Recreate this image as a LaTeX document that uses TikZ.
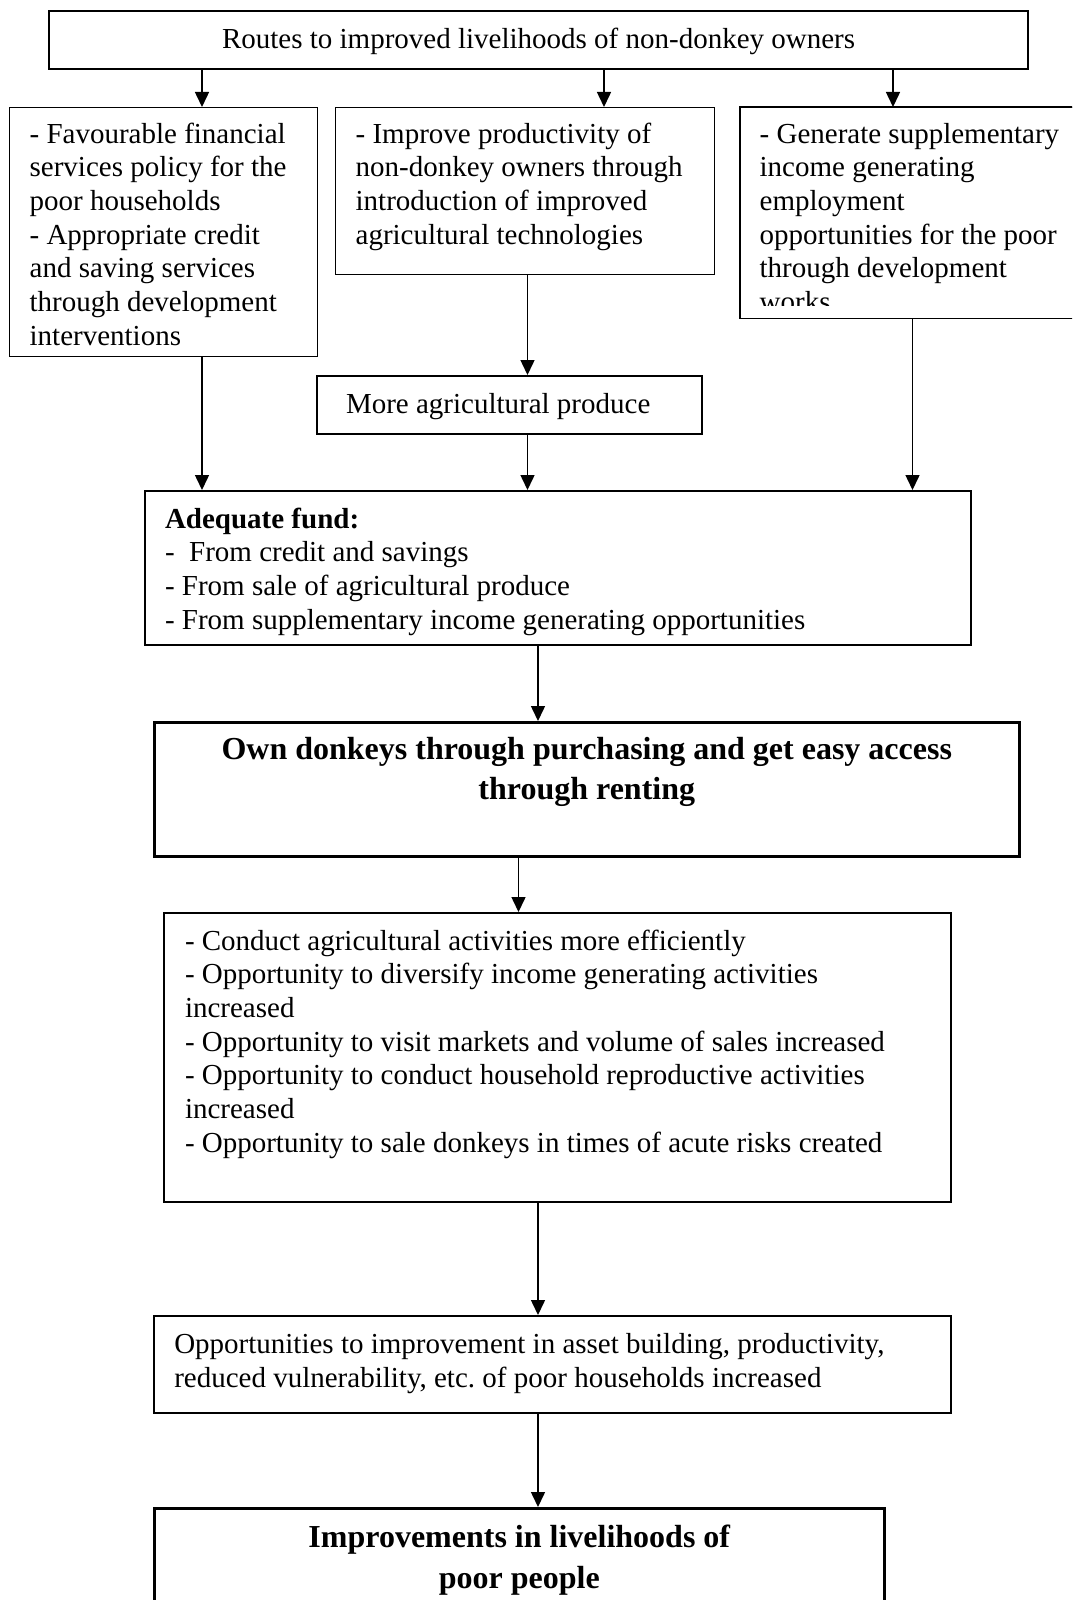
\documentclass[tikz,border=0pt]{standalone}
\usepackage{fontspec}
\setmainfont{Liberation Serif}
\usetikzlibrary{arrows.meta}
\frenchspacing
% #1 width, #2 height, #3 first baseline offset, #4 alignment setup, #5 text
\newcommand\boxcontent[5]{\begin{minipage}[t][#2pt][t]{#1pt}\vspace*{\dimexpr#3pt-\ht\strutbox\relax}#4\strut #5\end{minipage}}
\newcommand\padleft[1]{\raggedright\leftskip=#1pt\relax}
\begin{document}
\begin{tikzpicture}[x=1pt,y=-1pt,
  box/.style={draw, line width=1.3pt, inner sep=0pt, anchor=north west,
    font=\fontsize{29}{33.7}\selectfont},
  bigbox/.style={box, line width=2.6pt, font=\fontsize{32}{40.5}\selectfont\bfseries},
  arr/.style={line width=1.5pt, -{Triangle[length=15pt,width=14pt]}}]
\useasboundingbox (0,0) rectangle (1072,1600);
\clip (0,0) rectangle (1072,1600);

% x positions of connectors
\coordinate (xa) at (202,0);
\coordinate (xb) at (604,0);
\coordinate (xc) at (893,0);
\coordinate (xd) at (527.5,0);
\coordinate (xf) at (912.5,0);
\coordinate (xg) at (538,0);
\coordinate (xh) at (518.5,0);

\node[box, line width=2.2pt] (top) at (48,10)
  {\boxcontent{979}{58}{37}{\centering}{Routes to improved livelihoods of non-donkey owners}};

\node[box] (left) at (9,107)
  {\boxcontent{308}{249}{35.5}{\padleft{20}}{- Favourable financial\\services policy for the\\poor households\\- Appropriate credit\\and saving services\\through development\\interventions}};

\node[box] (mid) at (335,107)
  {\boxcontent{379}{167}{35.5}{\padleft{20}}{- Improve productivity of\\non-donkey owners through\\introduction of improved\\agricultural technologies}};

\begin{scope}
  \clip (730,100) rectangle (1072,305.5);
  \node[box] (right) at (740,107)
    {\boxcontent{345}{210}{35.5}{\padleft{19}}{- Generate supplementary\\income generating\\employment\\opportunities for the poor\\through development\\works}};
\end{scope}
\draw[line width=1.3pt] (right.south west) rectangle (right.north east);

\node[box, line width=2pt] (more) at (316,375)
  {\boxcontent{385}{58}{37}{\padleft{29}}{More agricultural produce}};

\node[box, line width=2pt] (fund) at (144,490)
  {\boxcontent{826}{154}{37}{\padleft{20}}{\textbf{Adequate fund:}\\-\ \ From credit and savings\\- From sale of agricultural produce\\- From supplementary income generating opportunities}};

\node[bigbox] (own) at (153,721)
  {\boxcontent{865}{134}{37}{\centering}{Own donkeys through purchasing and get easy access\\through renting}};

\node[box, line width=2pt] (cond) at (163,912)
  {\boxcontent{787}{289}{37}{\padleft{21}}{- Conduct agricultural activities more efficiently\\- Opportunity to diversify income generating activities\\increased\\- Opportunity to visit markets and volume of sales increased\\- Opportunity to conduct household reproductive activities\\increased\\- Opportunity to sale donkeys in times of acute risks created}};

\node[box, line width=1.5pt] (opp) at (153,1315)
  {\boxcontent{797}{97}{38}{\padleft{20.5}}{Opportunities to improvement in asset building, productivity,\\reduced vulnerability, etc.\ of poor households increased}};

\node[bigbox] (impr) at (153,1507)
  {\boxcontent{730}{130}{39.5}{\centering}{Improvements in livelihoods of\\poor people}};

% connectors
\draw[arr] (top.south -| xa) -- (left.north -| xa);
\draw[arr] (top.south -| xb) -- (mid.north -| xb);
\draw[arr] (top.south -| xc) -- (right.north -| xc);
\draw[arr] (mid.south -| xd) -- (more.north -| xd);
\draw[arr] (left.south -| xa) -- (fund.north -| xa);
\draw[arr] (more.south -| xd) -- (fund.north -| xd);
\draw[arr] (right.south -| xf) -- (fund.north -| xf);
\draw[arr] (fund.south -| xg) -- (own.north -| xg);
\draw[arr] (own.south -| xh) -- (cond.north -| xh);
\draw[arr] (cond.south -| xg) -- (opp.north -| xg);
\draw[arr] (opp.south -| xg) -- (impr.north -| xg);
\end{tikzpicture}
\end{document}
